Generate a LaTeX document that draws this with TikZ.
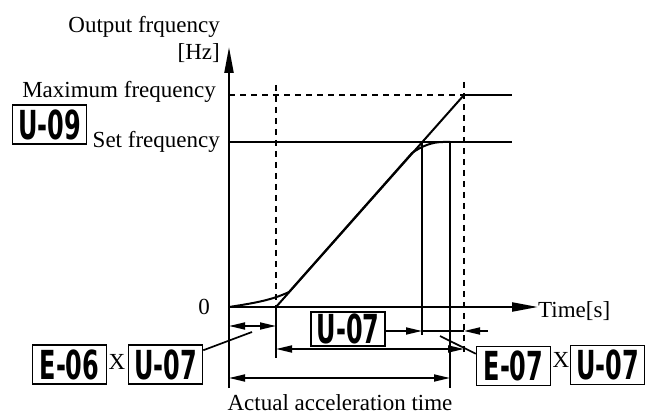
\documentclass[tikz,border=0pt]{standalone}
\usepackage{fontspec}
\setmainfont{Liberation Serif}
\setsansfont{DejaVu Sans}
\usetikzlibrary{arrows.meta, positioning, calc}

\newcommand{\segcode}[1]{\scalebox{0.6}[1]{\sffamily\bfseries #1}}

\begin{document}
\begin{tikzpicture}[
    x=1pt, y=-1pt,
    every node/.style={font=\fontsize{23}{25}\selectfont, inner sep=0pt},
    codebox/.style={draw, line width=1.5pt, minimum width=74pt, minimum height=39pt,
        font=\fontsize{40}{40}\selectfont},
    axis/.style={line width=2.2pt, -{Triangle[length=26pt,width=9pt]}},
    curve/.style={line width=2pt},
    guide/.style={line width=2pt, dash pattern=on 6pt off 5pt},
    dim/.style={line width=1.7pt, {Triangle[length=16pt,width=7pt]}-{Triangle[length=16pt,width=7pt]}},
    tip/.style={line width=1.7pt, -{Triangle[length=16pt,width=7pt]}},
    leader/.style={line width=1.7pt}
]
\useasboundingbox (0,0) rectangle (657,417);

% labels
\node[anchor=base east] (title) at (220,33) {Output frquency};
\node[anchor=base east] (unit) at (220,60) {[Hz]};
\node[anchor=base east] (maxf) at (216,98) {Maximum frequency};
\node[anchor=base east] (setf) at (220,148) {Set frequency};
\node[anchor=base] (zero) at (204,315) {0};
\node[anchor=base west] (time) at (538,317) {Time[s]};
\node[anchor=base] (actual) at (340,410) {Actual acceleration time};

% parameter boxes
\node[codebox] (u09) at (49.5,124.5) {\segcode{U-09}};
\node[codebox] (e06) at (69.5,364.5) {\segcode{E-06}};
\node[anchor=base] (x1) at (117,370) {X};
\node[codebox] (u07a) at (165.5,364.5) {\segcode{U-07}};
\node[codebox, minimum height=34pt] (u07b) at (348,329) {\segcode{U-07}};
\node[codebox] (e07) at (513.5,366) {\segcode{E-07}};
\node[anchor=base] (x2) at (561,367) {X};
\node[codebox] (u07c) at (607.5,365) {\segcode{U-07}};

% points
\coordinate (O) at (229,307);
\coordinate (ytop) at (229,47);
\coordinate (ybot) at (229,388);
\coordinate (ta) at (276,307);
\coordinate (fmax) at (464,95);
\coordinate (tb) at (422,142);
\coordinate (tc) at (450,142);

% axes
\draw[axis] (ybot) -- (ytop);
\draw[axis] (O) -- (time.west |- O);

% frequency levels
\draw[guide] (229,95) -- (fmax);
\draw[curve] (fmax) -- (512,95);
\draw[curve] (229,142) -- (512,142);

% guide lines
\draw[guide] (276,85) -- (ta);
\draw[line width=1.7pt] (ta) -- (276,358);
\draw[guide] (464,82) -- (464,355);
\draw[line width=1.7pt] (tb) -- (422,335);
\draw[line width=1.7pt] (tc) -- (450,388);

% ramps
\draw[curve] (ta) -- (fmax);
\draw[curve] (O) .. controls (255,303) and (272,300) .. (289,292)
    -- (412,153) .. controls (422,146) and (432,142) .. (443,142) -- (tc);

% dimensions
\draw[dim] (229,326) -- (276,326);
\draw[tip] (u07b.east |- 0,331) -- (422,331);
\draw[line width=1.7pt] (422,331) -- (464,331);
\draw[tip] (488,331) -- (464,331);
\draw[dim] (276,349) -- (464,349);
\draw[dim] (229,378) -- (450,378);

% leaders
\draw[leader] ($(u07a.north east)+(0,6)$) -- (252,332);
\draw[leader] ($(e07.north west)+(0,8)$) -- (440,336);
\end{tikzpicture}
\end{document}
